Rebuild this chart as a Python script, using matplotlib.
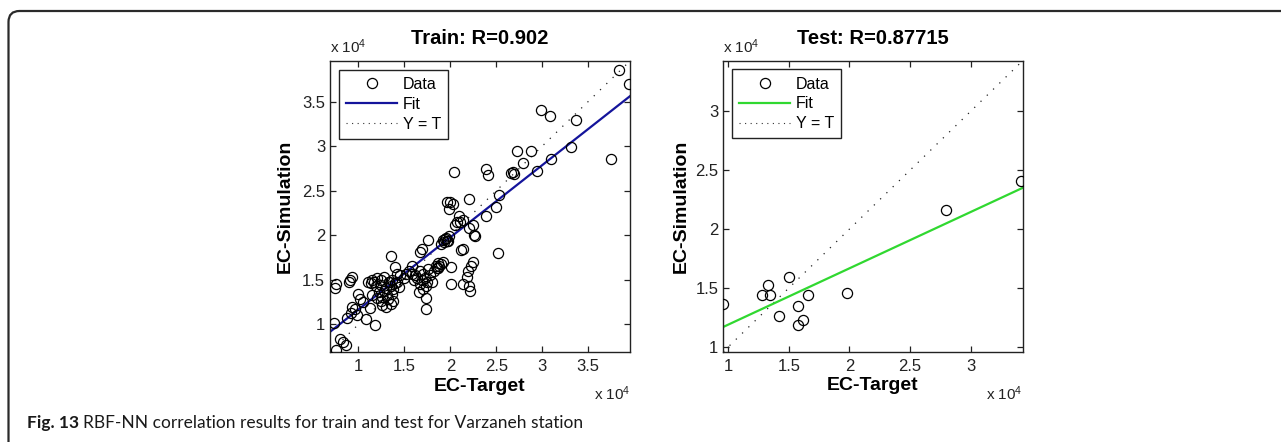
import matplotlib
matplotlib.use("Agg")
import matplotlib.pyplot as plt
import numpy as np
from matplotlib.patches import FancyBboxPatch
from matplotlib.ticker import FuncFormatter, MultipleLocator
from matplotlib.lines import Line2D

# ---------------- data (x 1e4) ----------------
train_target = [3.83, 3.94, 2.99, 3.08, 3.37, 2.73, 2.88, 2.79, 3.31, 3.75, 3.10, 2.94, 2.39, 2.41,
                2.66, 2.69, 2.68, 2.53, 2.50, 2.39, 2.26, 2.52, 2.20, 2.04,
                1.96, 2.00, 1.99, 2.03, 2.09, 2.07, 2.10, 2.14, 2.20, 2.25, 2.27, 1.76, 1.92, 1.95,
                1.98, 1.93, 1.96, 1.90, 2.14, 1.69, 2.12, 1.35, 1.67, 1.40, 1.42,
                0.91, 0.93, 0.90, 0.75, 0.74, 1.15, 1.20, 1.24, 1.28, 1.33, 1.36, 1.14, 1.19, 1.25,
                1.30, 1.35, 1.40, 1.15, 1.20, 1.26, 1.32, 1.37, 1.26, 1.30, 1.35, 1.00, 0.93, 0.96,
                0.92, 0.98, 1.08, 1.18, 0.73, 0.80, 0.83, 0.86, 0.75, 0.88,
                1.61, 1.67, 1.72, 1.76, 1.80, 1.67, 1.74, 1.84, 1.86, 1.87, 1.60, 1.70, 1.78, 2.01,
                1.73, 1.73, 2.01, 2.14, 2.20, 2.18, 2.19, 2.25, 2.22, 2.21, 1.66, 1.70, 1.90, 1.88,
                1.92, 1.45, 1.50, 1.42, 1.38, 1.55, 1.58, 1.52, 1.44, 1.10, 1.05,
                1.17, 1.22, 1.28, 1.31, 1.38, 1.24, 1.33, 1.02, 1.12, 1.64, 1.69, 1.75, 1.82, 1.94,
                1.97, 1.85, 2.05, 1.58]
train_output = [3.85, 3.70, 3.40, 3.34, 3.29, 2.95, 2.94, 2.81, 2.99, 2.85, 2.85, 2.72, 2.74, 2.68,
                2.70, 2.69, 2.71, 2.45, 2.32, 2.22, 2.00, 1.80, 2.41, 2.71,
                2.37, 2.37, 2.30, 2.35, 2.22, 2.15, 2.15, 2.17, 2.08, 2.11, 1.99, 1.95, 1.95, 1.97,
                1.99, 1.92, 1.93, 1.90, 1.85, 1.85, 1.83, 1.77, 1.81, 1.64, 1.56,
                1.50, 1.53, 1.47, 1.45, 1.41, 1.50, 1.52, 1.50, 1.53, 1.48, 1.50, 1.46, 1.43, 1.44,
                1.41, 1.43, 1.46, 1.33, 1.30, 1.31, 1.28, 1.34, 1.22, 1.20, 1.23, 1.34, 1.20, 1.17,
                1.13, 1.11, 1.06, 0.99, 1.01, 0.84, 0.80, 0.77, 0.71, 1.07,
                1.55, 1.60, 1.52, 1.62, 1.47, 1.45, 1.43, 1.66, 1.69, 1.63, 1.50, 1.56, 1.55, 1.64,
                1.30, 1.17, 1.45, 1.45, 1.43, 1.53, 1.60, 1.70, 1.66, 1.38, 1.36, 1.40, 1.68, 1.65,
                1.70, 1.55, 1.52, 1.47, 1.40, 1.60, 1.65, 1.57, 1.42, 1.48, 1.25,
                1.47, 1.36, 1.38, 1.33, 1.26, 1.26, 1.47, 1.29, 1.18, 1.52, 1.50, 1.48, 1.60, 1.96,
                1.94, 1.63, 2.12, 1.56]
train_fit = (0.81, 0.357)       # slope, intercept (x 1e4)
train_lim = (0.69, 3.955)
train_R = "0.902"

test_target = [0.959, 1.275, 1.33, 1.344, 1.42, 1.503, 1.578, 1.614, 1.578, 1.655, 1.977, 2.796, 3.42]
test_output = [1.367, 1.443, 1.523, 1.443, 1.265, 1.591, 1.345, 1.228, 1.183, 1.443, 1.458, 2.16, 2.406]
test_fit = (0.478, 0.711)
test_lim = (0.959, 3.43)
test_R = "0.87715"

SCALE = 1e4
W, H = 1281, 442

plt.rcParams['font.family'] = ['Liberation Sans', 'DejaVu Sans']
plt.rcParams['mathtext.fontset'] = 'custom'
plt.rcParams['mathtext.rm'] = 'Liberation Sans'
plt.rcParams['mathtext.it'] = 'Liberation Sans:italic'
plt.rcParams['mathtext.bf'] = 'Liberation Sans:bold'
fig = plt.figure(figsize=(W / 100, H / 100), dpi=100)

# frame with rounded top-left corner
frame = FancyBboxPatch((8.5 / 100, -0.5), 14.0, (H - 11) / 100 + 0.5,
                       boxstyle="round,pad=0,rounding_size=0.11",
                       transform=fig.dpi_scale_trans, fill=False,
                       edgecolor='#2a2a2a', linewidth=1.6)
fig.add_artist(frame)


def px_rect(l, r, t, b):
    return [l / W, 1 - b / H, (r - l) / W, (b - t) / H]


def panel(rect, tx, ty, fit, lim, R, title, color, ylab_x):
    ax = fig.add_axes(rect)
    tx = np.array(tx) * SCALE
    ty = np.array(ty) * SCALE
    lo, hi = lim[0] * SCALE, lim[1] * SCALE
    xs = np.array([lo, hi])
    ax.plot(xs, xs, linestyle=(0, (1, 6)), color='#222222', linewidth=0.9, zorder=1)
    ax.plot(xs, fit[0] * xs + fit[1] * SCALE, color=color, linewidth=1.6, zorder=2)
    ax.plot(tx, ty, 'o', mfc='none', mec='black', ms=7.3, mew=0.9, zorder=3)
    ax.set_xlim(lo, hi)
    ax.set_ylim(lo, hi)
    ax.xaxis.set_major_locator(MultipleLocator(5000))
    ax.yaxis.set_major_locator(MultipleLocator(5000))
    fmt = FuncFormatter(lambda v, p: f"{v / SCALE:g}")
    ax.xaxis.set_major_formatter(fmt)
    ax.yaxis.set_major_formatter(fmt)
    ax.tick_params(direction='in', top=True, right=True, length=4, width=0.9,
                   labelsize=12, colors='#222222')
    ax.tick_params(axis='x', pad=5)
    ax.tick_params(axis='y', pad=3.5)
    for s in ax.spines.values():
        s.set_linewidth(1.0)
        s.set_color('#222222')
    ax.set_title(f"{title}: R={R}", fontsize=14.5, fontweight='bold', pad=12)
    ax.set_xlabel("EC-Target", fontsize=14, fontweight='bold')
    ax.set_ylabel("EC-Simulation", fontsize=14, fontweight='bold')
    ax.xaxis.label.set_va('center')
    ax.xaxis.set_label_coords(0.5, -0.117)
    ax.yaxis.label.set_va('center')
    ax.yaxis.set_label_coords(ylab_x, 0.5)
    ax.text(0.0, 1.028, r"x 10$^{4}$", transform=ax.transAxes, ha='left', va='baseline',
            fontsize=11, color='#222222')
    ax.text(1.0, -0.165, r"x 10$^{4}$", transform=ax.transAxes, ha='right', va='baseline',
            fontsize=11, color='#222222')
    handles = [Line2D([], [], marker='o', ls='none', mfc='none', mec='black', ms=7.3, mew=0.9),
               Line2D([], [], color=color, lw=1.6),
               Line2D([], [], color='#333333', lw=0.8, ls=(0, (1, 4)))]
    leg = ax.legend(handles, ["Data", "Fit", "Y = T"], loc='upper left', fontsize=11.5,
                    frameon=True, fancybox=False, edgecolor='#222222', framealpha=1,
                    handlelength=3.2, handletextpad=0.35, borderpad=0.45,
                    labelspacing=0.3, borderaxespad=0.55, numpoints=1)
    leg.get_frame().set_linewidth(1.0)
    return ax


panel(px_rect(330, 630, 61, 352), train_target, train_output, train_fit, train_lim,
      train_R, "Train", '#14149b', -0.15)
panel(px_rect(723.3, 1022.7, 60.7, 351.7), test_target, test_output, test_fit, test_lim,
      test_R, "Test", '#30d830', -0.142)

# caption
cap_y = 1 - 428 / H
t1 = fig.text(27 / W, cap_y, "Fig. 13", fontsize=12.5, fontweight='bold',
              family=['Lato', 'DejaVu Sans'], va='baseline', ha='left', color='#1a1a1a')
fig.canvas.draw()
bb = t1.get_window_extent()
fig.text((bb.x1 + 4) / W, cap_y, "RBF-NN correlation results for train and test for Varzaneh station",
         fontsize=12.5, family=['Lato', 'DejaVu Sans'], va='baseline', ha='left', color='#1a1a1a')

fig.savefig("out.png", dpi=100)
